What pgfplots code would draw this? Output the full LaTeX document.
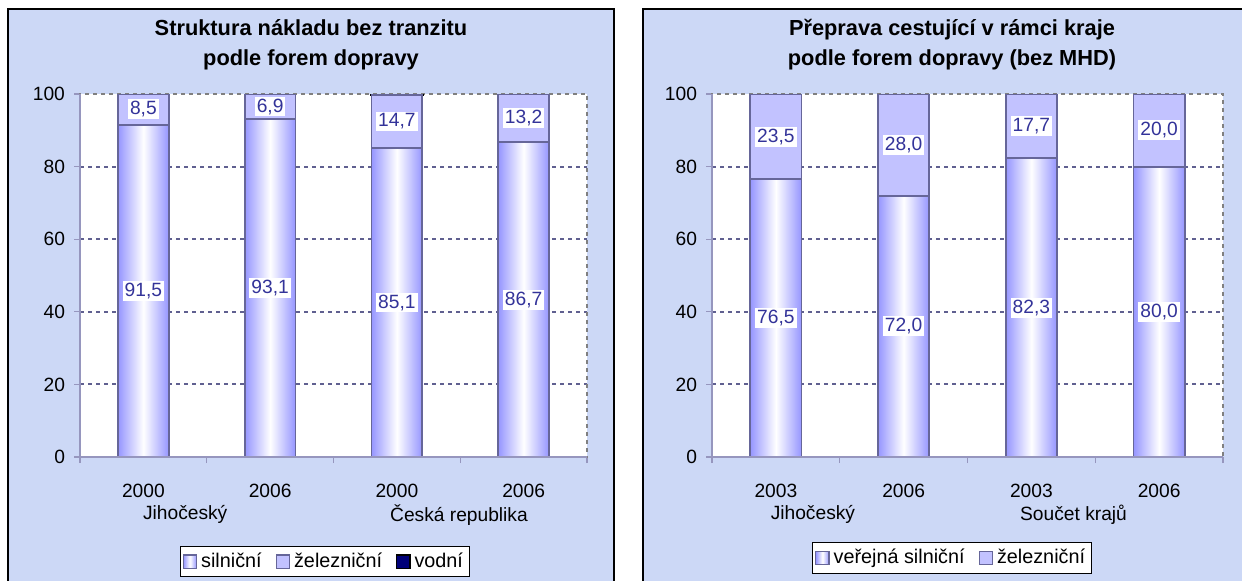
\documentclass[border=0pt]{standalone}
\usepackage{pgfplots}
\pgfplotsset{compat=1.18}
\usepackage{fontspec}
\setmainfont{Liberation Sans}
\definecolor{bg}{RGB}{204,216,246}
\definecolor{road}{RGB}{150,150,255}
\definecolor{rail}{RGB}{194,194,255}
\definecolor{barline}{RGB}{102,102,153}
\definecolor{lbl}{RGB}{51,51,153}
\definecolor{gridc}{RGB}{96,96,144}
\definecolor{framec}{RGB}{128,128,128}
\definecolor{axisc}{RGB}{150,150,190}
\definecolor{water}{RGB}{0,0,120}
\pgfplotsset{
  geom/.style={
    scale only axis, height=181.5pt,
    enlargelimits=false,
    xmin=-0.5, xmax=3.5, ymin=0, ymax=100,
  },
  under/.style={geom,
    axis line style={draw=none},
    xtick=\empty, ytick={20,40,60,80}, yticklabels={},
    major tick length=0pt,
    ymajorgrids,
    grid style={gridc, line width=1pt, dash pattern=on 2pt off 2pt},
    axis background/.style={fill=white},
  },
  common/.style={geom,
    ybar stacked, bar width=0.4,
    stacked ignores zero,
    ytick={0,20,...,100},
    xtick={0,1,2,3},
    minor xtick={-0.5,0.5,1.5,2.5,3.5},
    xtick pos=bottom, ytick pos=left,
    major x tick style={draw=none},
    minor x tick style={axisc, line width=0.6pt},
    major y tick style={axisc, line width=0.6pt},
    tick align=outside,
    major tick length=3pt, minor tick length=3pt,
    axis line style={framec, line width=1pt, dash pattern=on 2pt off 2pt},
    /pgf/number format/assume math mode=true,
    tick label style={font=\fontsize{9.6}{10}\selectfont, text=black},
    y tick label style={xshift=-1pt},
    x tick label style={yshift=-7pt},
    extra x tick style={major tick length=0pt, grid=none, tick label style={yshift=-13.5pt}},
    legend style={anchor=north, legend columns=-1, draw=black, fill=white,
      font=\fontsize{9.9}{10}\selectfont, inner sep=1.2pt,
      /tikz/every even column/.append style={column sep=5pt}},
    legend image code/.code={\draw[#1, line width=0.6pt] (0pt,-3.3pt) rectangle (6.6pt,3.3pt);},
    every node near coord/.append style={anchor=center, fill=white, inner sep=1pt,
      text=lbl, font=\fontsize{9.6}{10}\selectfont},
    lbls/.style={nodes near coords={\pgfmathprintnumber[fixed, fixed zerofill, precision=1, use comma]{\pgfplotspointmeta}}},
    after end axis/.code={\draw[axisc, line width=0.6pt] (rel axis cs:0,1) -- (rel axis cs:0,0) -- (rel axis cs:1,0);},
  },
  shadebar/.style={ybar, bar width=0.4, bar shift=0pt, draw=none,
    left color=road, right color=road, middle color=white},
  roadbar/.style={draw=barline, line width=0.9pt, fill=none,
    legend image code/.code={\draw[draw=barline, line width=0.6pt, left color=road, right color=road, middle color=white] (0pt,-3.3pt) rectangle (6.6pt,3.3pt);}},
  railbar/.style={draw=barline, line width=0.9pt, fill=rail},
}
\begin{document}
\begin{tikzpicture}
\useasboundingbox (0,0) rectangle (621pt,290pt);
\fill[white] (0,0) rectangle (621pt,290pt);
\filldraw[fill=bg, draw=black, line width=0.8pt] (4pt,-10pt) rectangle (307pt,285.5pt);
\filldraw[fill=bg, draw=black, line width=0.8pt] (321.5pt,-10pt) rectangle (630pt,285.5pt);
\node[font=\bfseries\fontsize{10.9}{15}\selectfont, align=center] at (155.5pt,267.5pt) {Struktura nákladu bez tranzitu\\podle forem dopravy};
\node[font=\bfseries\fontsize{10.9}{15}\selectfont, align=center] at (476pt,267.5pt) {Přeprava cestující v rámci kraje\\podle forem dopravy (bez MHD)};

% left panel: gradient fill of road bars
\begin{axis}[under, width=253.5pt, at={(40pt,61.5pt)}, anchor=south west]
\addplot[shadebar] coordinates {(0,91.5)};
\addplot[shadebar] coordinates {(1,93.1)};
\addplot[shadebar] coordinates {(2,85.1)};
\addplot[shadebar] coordinates {(3,86.7)};
\end{axis}
\begin{axis}[common, width=253.5pt, at={(40pt,61.5pt)}, anchor=south west,
  xticklabels={2000,2006,2000,2006},
  extra x ticks={0.33,2.49},
  extra x tick labels={Jihočeský,Česká republika},
  legend style={at={(0.483,-0.245)}}]
\addplot[roadbar, lbls] coordinates {(0,91.5) (1,93.1) (2,85.1) (3,86.7)};
\addlegendentry{silniční}
\addplot[railbar, lbls] coordinates {(0,8.5) (1,6.9) (2,14.7) (3,13.2)};
\addlegendentry{železniční}
\addplot[draw=black, line width=1.5pt, fill=water] coordinates {(0,0) (1,0) (2,0.2) (3,0.1)};
\addlegendentry{vodní}
\end{axis}

% right panel
\begin{axis}[under, width=255.5pt, at={(356pt,61.5pt)}, anchor=south west]
\addplot[shadebar] coordinates {(0,76.5)};
\addplot[shadebar] coordinates {(1,72.0)};
\addplot[shadebar] coordinates {(2,82.3)};
\addplot[shadebar] coordinates {(3,80.0)};
\end{axis}
\begin{axis}[common, width=255.5pt, at={(356pt,61.5pt)}, anchor=south west,
  xticklabels={2003,2006,2003,2006},
  extra x ticks={0.29,2.33},
  extra x tick labels={Jihočeský,Součet krajů},
  legend style={at={(0.47,-0.235)}}]
\addplot[roadbar, lbls] coordinates {(0,76.5) (1,72.0) (2,82.3) (3,80.0)};
\addlegendentry{veřejná silniční}
\addplot[railbar, lbls] coordinates {(0,23.5) (1,28.0) (2,17.7) (3,20.0)};
\addlegendentry{železniční}
\end{axis}
\end{tikzpicture}
\end{document}
